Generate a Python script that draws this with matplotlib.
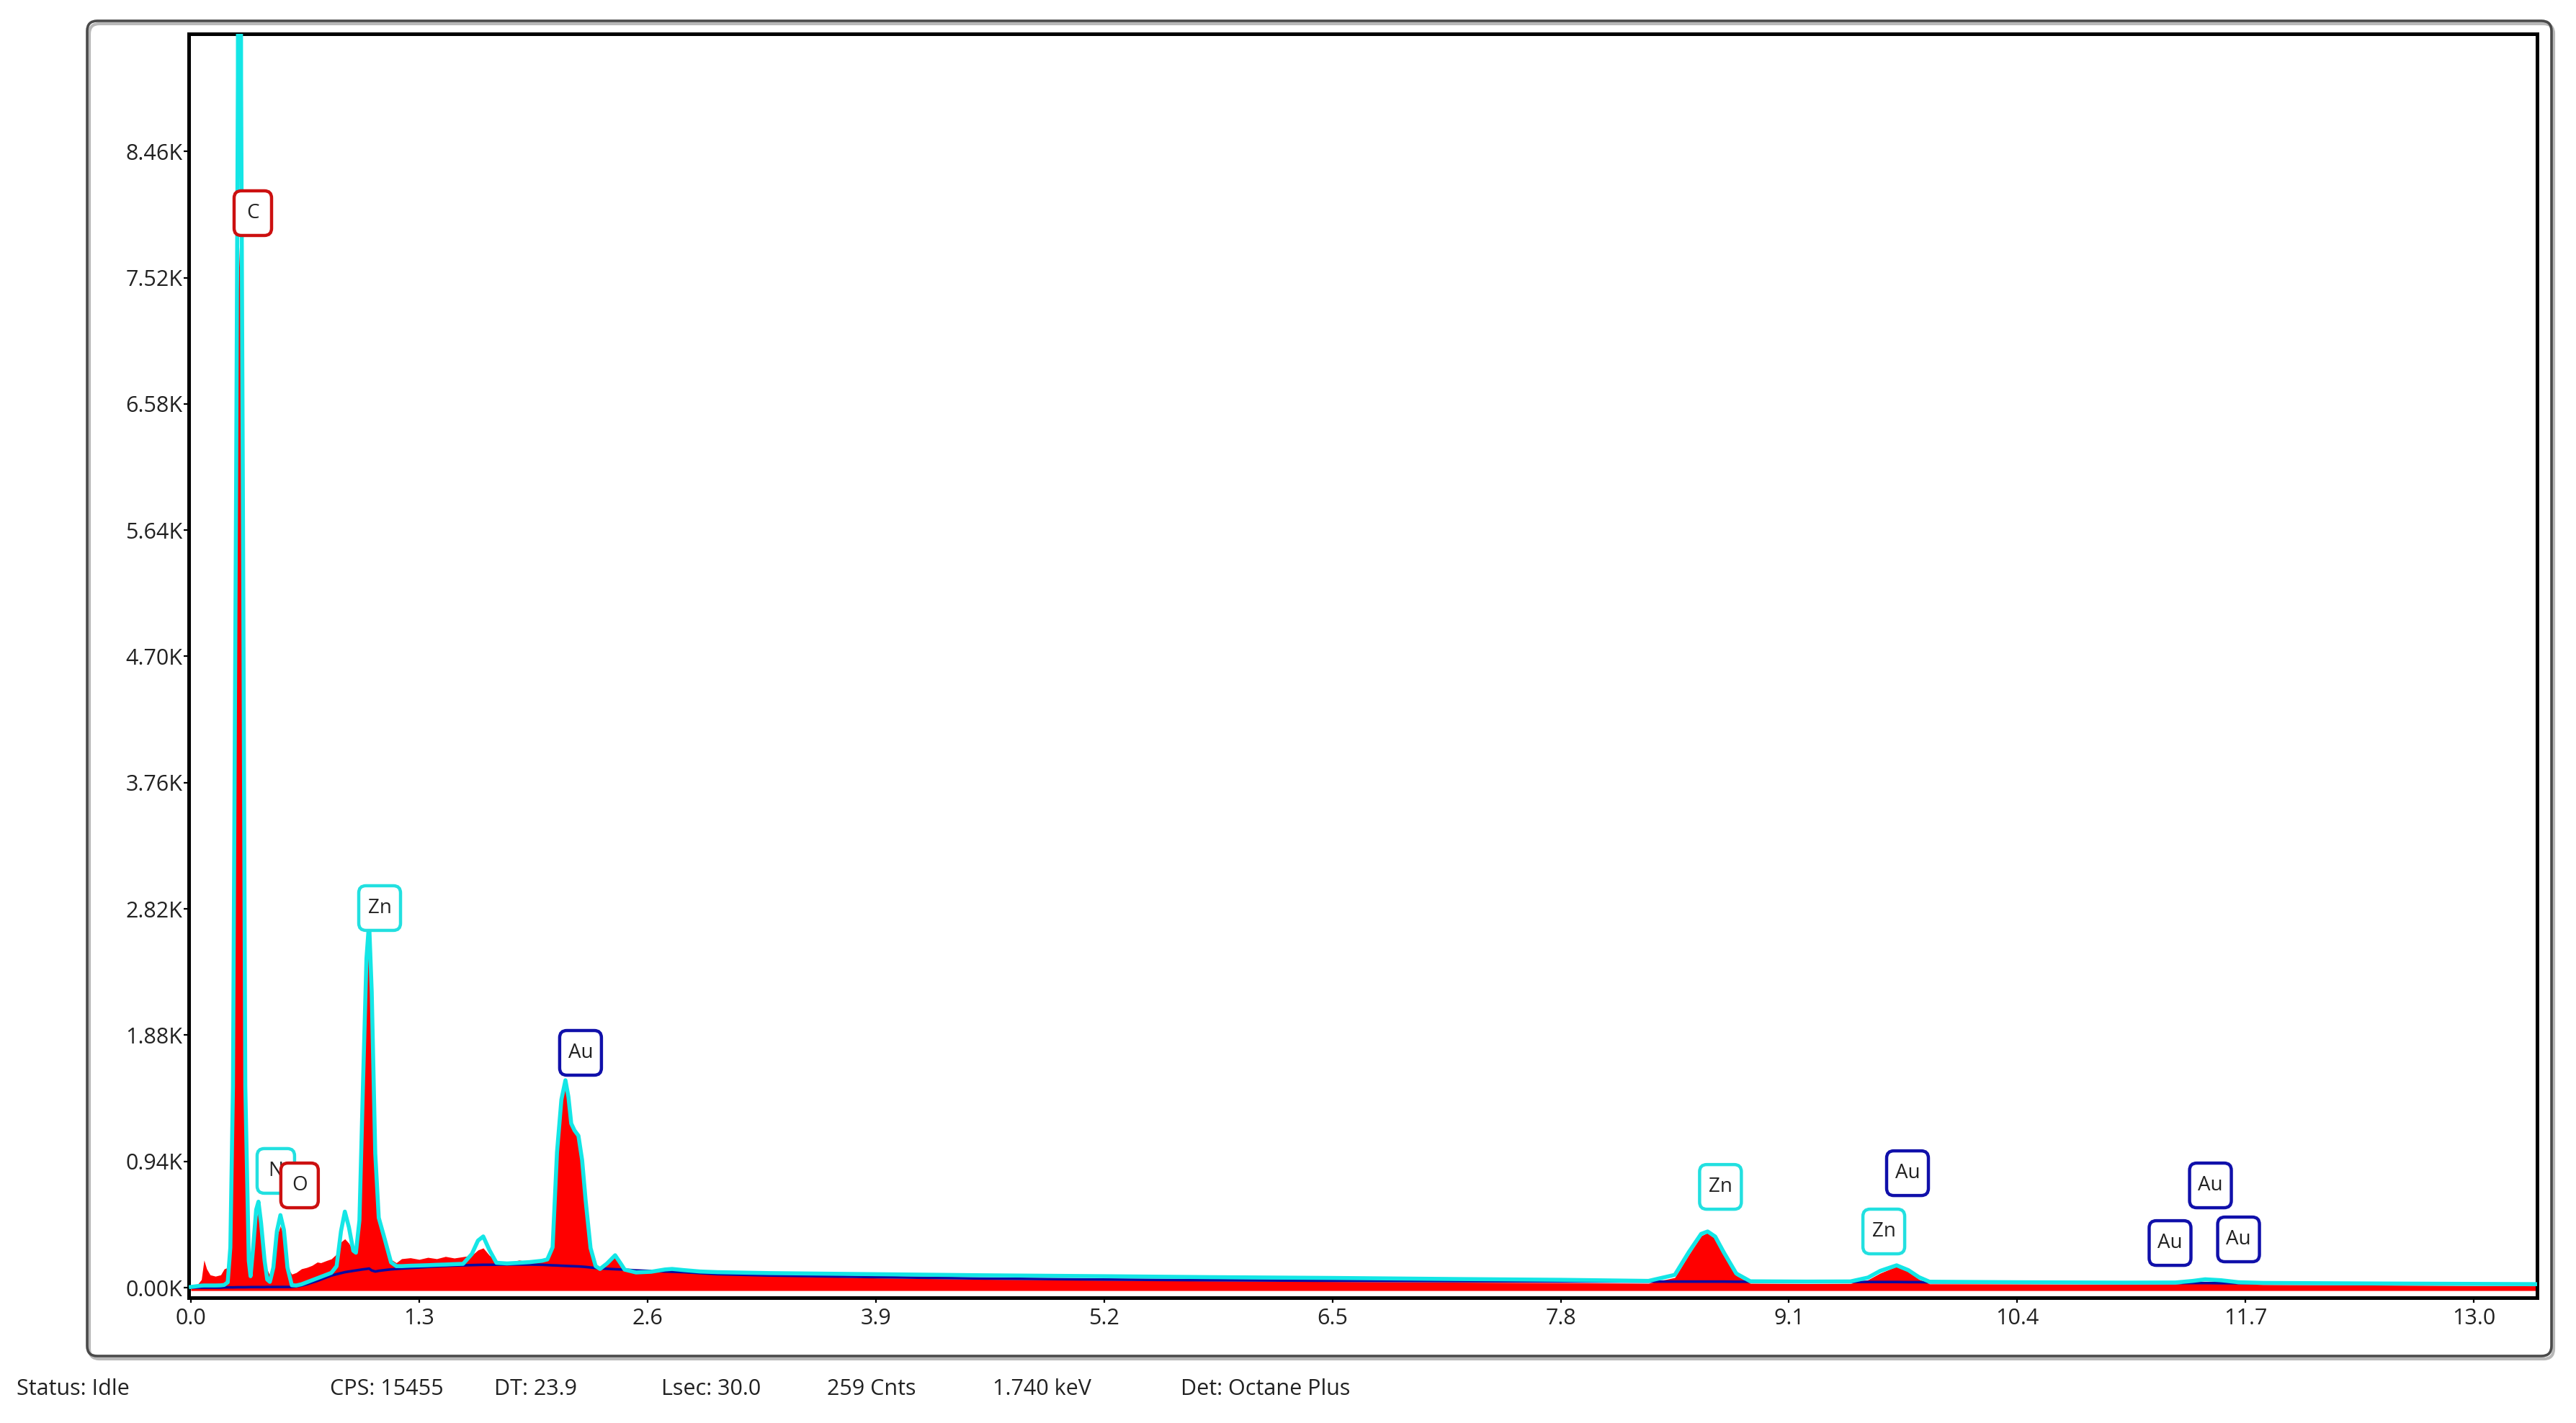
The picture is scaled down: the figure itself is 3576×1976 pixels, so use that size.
import matplotlib
matplotlib.use("Agg")
import matplotlib.pyplot as plt
from matplotlib.patches import FancyBboxPatch
from matplotlib.transforms import IdentityTransform, ScaledTranslation

plt.rcParams['font.family'] = ['Open Sans', 'DejaVu Sans']

# ---------------- data ----------------
energy_kev = [0.00, 0.03, 0.06, 0.075, 0.09, 0.11, 0.14, 0.17, 0.19, 0.21,
              0.225, 0.24, 0.258, 0.268, 0.277, 0.286, 0.296, 0.31, 0.33, 0.34,
              0.355, 0.372, 0.385, 0.40, 0.42, 0.435, 0.45, 0.47, 0.49, 0.51,
              0.53, 0.55, 0.575, 0.60, 0.63, 0.66, 0.69, 0.72, 0.74, 0.77,
              0.80, 0.83, 0.855, 0.877, 0.90, 0.925, 0.94, 0.96, 0.98, 1.00,
              1.015, 1.03, 1.05, 1.07, 1.10, 1.14, 1.17, 1.20, 1.25, 1.30,
              1.35, 1.40, 1.45, 1.50, 1.55, 1.60, 1.635, 1.665, 1.70, 1.74,
              1.80, 1.87, 1.93, 2.00, 2.03, 2.06, 2.085, 2.11, 2.133, 2.15,
              2.166, 2.185, 2.207, 2.228, 2.248, 2.276, 2.305, 2.33, 2.37, 2.416,
              2.45, 2.47, 2.535, 2.62, 2.70, 2.74, 2.81, 2.90, 3.00, 3.30,
              3.60, 3.90, 4.50, 5.20, 5.80, 6.50, 7.20, 7.80, 8.30, 8.45,
              8.53, 8.60, 8.637, 8.68, 8.73, 8.80, 8.88, 9.20, 9.45, 9.55,
              9.62, 9.713, 9.78, 9.84, 9.90, 10.40, 11.00, 11.30, 11.40, 11.47,
              11.56, 11.66, 11.80, 12.40, 13.00, 13.36]

measured_counts = [0, 10, 60, 205, 140, 95, 85, 95, 139, 150,
                   400, 1500, 5200, 7400, 7750, 7300, 4500, 1200, 200, 90,
                   250, 520, 566, 420, 160, 133, 90, 160, 380, 460,
                   380, 150, 100, 112, 140, 150, 165, 190, 185, 200,
                   214, 250, 340, 363, 330, 270, 300, 600, 1600, 2450,
                   2700, 2200, 1000, 550, 390, 210, 185, 215, 222, 210,
                   225, 215, 232, 220, 230, 240, 280, 295, 240, 200,
                   185, 205, 190, 200, 215, 320, 1000, 1400, 1544, 1420,
                   1240, 1180, 1135, 950, 660, 300, 165, 145, 175, 235,
                   170, 140, 110, 115, 130, 135, 125, 110, 100, 88,
                   80, 72, 62, 55, 50, 45, 40, 36, 32, 75,
                   245, 385, 410, 365, 245, 90, 32, 30, 31, 58,
                   108, 158, 118, 62, 28, 27, 24, 25, 36, 46,
                   40, 27, 23, 19, 15, 13]

fit_counts = [5, 10, 15, 16, 16, 16, 16, 17, 20, 40,
              300, 1500, 6000, 9000, 20000, 9000, 6000, 1500, 200, 85,
              300, 580, 640, 480, 200, 60, 43, 150, 420, 540,
              430, 150, 18, 16, 25, 40, 55, 70, 80, 95,
              110, 160, 420, 566, 450, 275, 260, 500, 1500, 2450,
              2720, 2200, 1000, 520, 380, 188, 160, 160, 163, 165,
              167, 170, 172, 175, 177, 250, 350, 381, 280, 185,
              180, 185, 190, 200, 210, 300, 1008, 1400, 1544, 1420,
              1222, 1170, 1131, 950, 649, 295, 160, 139, 180, 241,
              175, 134, 113, 118, 135, 139, 130, 120, 115, 108,
              104, 100, 92, 85, 78, 72, 64, 58, 50, 95,
              265, 400, 418, 380, 260, 105, 47, 45, 46, 75,
              125, 166, 130, 78, 44, 40, 37, 38, 50, 62,
              55, 40, 35, 31, 28, 26]

background_counts = [0, 0, 0, 0, 0, 0, 0, 0, 2, 2,
                     2, 2, 3, 3, 3, 3, 3, 3, 4, 4,
                     4, 4, 4, 4, 4, 5, 5, 5, 5, 5,
                     5, 5, 5, 8, 15, 25, 38, 50, 60, 75,
                     90, 100, 108, 115, 120, 125, 128, 132, 136, 139,
                     142, 128, 120, 125, 130, 136, 139, 142, 146, 150,
                     154, 158, 161, 164, 166, 168, 169, 170, 170, 171,
                     172, 172, 172, 170, 168, 166, 165, 163, 162, 161,
                     160, 159, 158, 156, 154, 150, 146, 143, 140, 137,
                     135, 134, 128, 124, 120, 118, 115, 108, 100, 90,
                     84, 78, 68, 60, 55, 51, 48, 46, 45, 45,
                     45, 45, 45, 45, 45, 44, 44, 43, 42, 42,
                     42, 42, 41, 41, 40, 38, 35, 34, 34, 34,
                     33, 33, 32, 29, 26, 24]

x_ticks = [0.0, 1.3, 2.6, 3.9, 5.2, 6.5, 7.8, 9.1, 10.4, 11.7, 13.0]
y_ticks = [0, 940, 1880, 2820, 3760, 4700, 5640, 6580, 7520, 8460]

peak_labels = ['C', 'N', 'O', 'Zn', 'Au', 'Zn', 'Zn', 'Au', 'Au', 'Au', 'Au']
label_kev = [0.353, 0.484, 0.619, 1.075, 2.219, 8.71, 9.64, 9.775, 11.27, 11.50, 11.66]
label_counts = [8000, 869, 761, 2826, 1748, 750, 418, 852, 332, 761, 359]
label_colors = ['#cc1010', '#22e0e0', '#cc1010', '#22e0e0', '#1010aa', '#22e0e0',
                '#22e0e0', '#1010aa', '#1010aa', '#1010aa', '#1010aa']

status_items = ['Status: Idle', 'CPS: 15455', 'DT: 23.9', 'Lsec: 30.0',
                '259 Cnts', '1.740 keV', 'Det: Octane Plus']
status_x_px = [23, 458, 686, 918, 1148, 1378, 1639]

# ---------------- figure ----------------
W, H = 3576, 1976
fig = plt.figure(figsize=(W / 100, H / 100), dpi=100)
fig.patch.set_facecolor('white')

# outer rounded frame (with soft shadow)
shadow = FancyBboxPatch((124, 1976 - 1887), 3421, 1854,
                        boxstyle="round,pad=0,rounding_size=14",
                        transform=IdentityTransform(), fill=False,
                        edgecolor='#b8b8b8', linewidth=3.0, zorder=0)
frame = FancyBboxPatch((121, 1976 - 1883), 3421, 1854,
                       boxstyle="round,pad=0,rounding_size=14",
                       transform=IdentityTransform(), fill=False,
                       edgecolor='#4a4a4a', linewidth=2.6, zorder=1)
fig.add_artist(shadow)
fig.add_artist(frame)

ax = fig.add_axes([262 / W, (H - 1802) / H, (3522 - 262) / W, (1802 - 47) / H])
ax.set_facecolor('white')

ax.fill_between(energy_kev, -22, measured_counts, color='#ff0000', linewidth=0, zorder=2)
ax.plot(energy_kev, background_counts, color='#0a0aa0', linewidth=2.6, zorder=3,
        solid_joinstyle='round')
ax.plot(energy_kev, fit_counts, color='#14e6e6', linewidth=4.0, zorder=4,
        solid_joinstyle='round')

ax.set_xlim(-0.012, 13.36)
ax.set_ylim(-75, 9335)

ax.set_xticks(x_ticks)
ax.set_xticklabels([f"{v:.1f}" for v in x_ticks])
ax.set_yticks(y_ticks)
ax.set_yticklabels([f"{v / 1000:.2f}K" for v in y_ticks])

ax.tick_params(axis='both', direction='out', length=5, width=1.6, colors='black',
               labelsize=22, labelcolor='#222222')
ax.tick_params(axis='y', pad=1)
ax.tick_params(axis='x', pad=5)

for s in ax.spines.values():
    s.set_linewidth(3.6)
    s.set_color('black')

# peak labels: rounded boxes of fixed pixel size centred on the label position
for i, (txt, xk, yc, col) in enumerate(zip(peak_labels, label_kev, label_counts, label_colors)):
    box_w = (52 if len(txt) == 1 else 58) / 100.0
    box_h = 62 / 100.0
    trans = fig.dpi_scale_trans + ScaledTranslation(xk, yc, ax.transData)
    box = FancyBboxPatch((-box_w / 2, -box_h / 2), box_w, box_h,
                         boxstyle="round,pad=0,rounding_size=0.1",
                         transform=trans, facecolor='white', edgecolor=col,
                         linewidth=3.2, zorder=6 + 2 * i, clip_on=False)
    ax.add_artist(box)
    ax.text(xk, yc, txt, ha='center', va='center', fontsize=20, color='#222222',
            zorder=7 + 2 * i)

# status bar
for txt, xp in zip(status_items, status_x_px):
    fig.text(xp / W, (H - 1929) / H, txt, ha='left', va='center',
             fontsize=22, color='#222222')

fig.savefig('out.png', dpi=100, facecolor='white')
